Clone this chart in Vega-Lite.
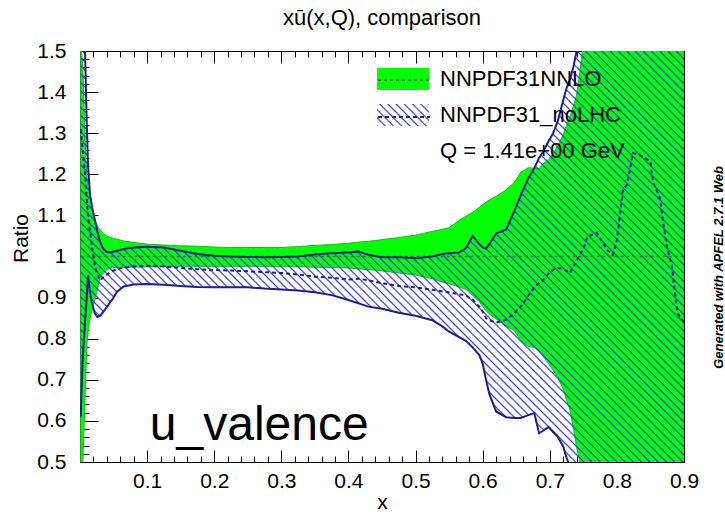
{
"$schema": "https://vega.github.io/schema/vega-lite/v6.json",
"width": 604,
"height": 411,
"autosize": {"type": "none"},
"padding": {"left": 80, "top": 51, "right": 41, "bottom": 52},
"background": "white",
"title": {"text": "xū(x,Q), comparison", "font": "Liberation Sans", "fontSize": 22, "fontWeight": "normal", "color": "black", "anchor": "middle", "frame": "group", "baseline": "alphabetic", "offset": -7},
"config": {
  "view": {"stroke": "black", "strokeWidth": 1},
  "font": "Liberation Sans",
  "axis": {"grid": false, "domain": false, "minExtent": 0, "maxExtent": 0, "labelFont": "Liberation Sans", "labelFontSize": 21, "labelColor": "black", "tickColor": "black", "tickWidth": 1, "titleFont": "Liberation Sans", "titleFontSize": 21, "titleFontWeight": "normal", "titleColor": "black", "labelFlush": false, "labelOverlap": false, "labelBound": false}
},
"datasets": {"bands": [
{"x":0.001,"g_lo":0.48,"g_hi":1.52,"g_c":1,"b_lo":0.61,"b_hi":1.52,"b_c":1.31},
{"x":0.004,"g_lo":0.49,"g_hi":1.47,"g_c":1,"b_lo":0.75,"b_hi":1.52,"b_c":1.26},
{"x":0.0075,"g_lo":0.65,"g_hi":1.29,"g_c":1,"b_lo":0.84,"b_hi":1.5,"b_c":1.2},
{"x":0.01,"g_lo":0.78,"g_hi":1.2,"g_c":1,"b_lo":0.9,"b_hi":1.33,"b_c":1.14},
{"x":0.012,"g_lo":0.82,"g_hi":1.17,"g_c":1,"b_lo":0.955,"b_hi":1.22,"b_c":1.1},
{"x":0.015,"g_lo":0.85,"g_hi":1.146,"g_c":1,"b_lo":0.91,"b_hi":1.15,"b_c":1.06},
{"x":0.018,"g_lo":0.87,"g_hi":1.115,"g_c":1,"b_lo":0.885,"b_hi":1.12,"b_c":1.02},
{"x":0.022,"g_lo":0.895,"g_hi":1.09,"g_c":1,"b_lo":0.862,"b_hi":1.09,"b_c":0.98},
{"x":0.026,"g_lo":0.92,"g_hi":1.074,"g_c":1,"b_lo":0.853,"b_hi":1.06,"b_c":0.955},
{"x":0.03,"g_lo":0.948,"g_hi":1.065,"g_c":1,"b_lo":0.856,"b_hi":1.035,"b_c":0.942},
{"x":0.035,"g_lo":0.96,"g_hi":1.055,"g_c":1,"b_lo":0.866,"b_hi":1.018,"b_c":0.95},
{"x":0.04,"g_lo":0.968,"g_hi":1.05,"g_c":1,"b_lo":0.877,"b_hi":1.011,"b_c":0.956},
{"x":0.045,"g_lo":0.971,"g_hi":1.047,"g_c":1,"b_lo":0.889,"b_hi":1.01,"b_c":0.962},
{"x":0.05,"g_lo":0.973,"g_hi":1.044,"g_c":1,"b_lo":0.9,"b_hi":1.012,"b_c":0.966},
{"x":0.055,"g_lo":0.973,"g_hi":1.042,"g_c":1,"b_lo":0.914,"b_hi":1.014,"b_c":0.969},
{"x":0.065,"g_lo":0.974,"g_hi":1.038,"g_c":1,"b_lo":0.927,"b_hi":1.018,"b_c":0.973},
{"x":0.08,"g_lo":0.974,"g_hi":1.034,"g_c":1,"b_lo":0.932,"b_hi":1.022,"b_c":0.976},
{"x":0.1,"g_lo":0.975,"g_hi":1.03,"g_c":1,"b_lo":0.933,"b_hi":1.024,"b_c":0.977},
{"x":0.125,"g_lo":0.975,"g_hi":1.028,"g_c":1,"b_lo":0.931,"b_hi":1.022,"b_c":0.976},
{"x":0.15,"g_lo":0.976,"g_hi":1.026,"g_c":1,"b_lo":0.928,"b_hi":1.014,"b_c":0.972},
{"x":0.175,"g_lo":0.976,"g_hi":1.025,"g_c":1,"b_lo":0.926,"b_hi":1.006,"b_c":0.969},
{"x":0.2,"g_lo":0.976,"g_hi":1.023,"g_c":1,"b_lo":0.925,"b_hi":1.002,"b_c":0.967},
{"x":0.225,"g_lo":0.976,"g_hi":1.022,"g_c":1,"b_lo":0.925,"b_hi":1.0,"b_c":0.966},
{"x":0.25,"g_lo":0.976,"g_hi":1.022,"g_c":1,"b_lo":0.925,"b_hi":0.999,"b_c":0.964},
{"x":0.275,"g_lo":0.976,"g_hi":1.022,"g_c":1,"b_lo":0.922,"b_hi":0.998,"b_c":0.962},
{"x":0.3,"g_lo":0.975,"g_hi":1.022,"g_c":1,"b_lo":0.92,"b_hi":0.999,"b_c":0.96},
{"x":0.325,"g_lo":0.975,"g_hi":1.024,"g_c":1,"b_lo":0.917,"b_hi":1.0,"b_c":0.956},
{"x":0.35,"g_lo":0.974,"g_hi":1.027,"g_c":1,"b_lo":0.913,"b_hi":1.005,"b_c":0.951},
{"x":0.375,"g_lo":0.973,"g_hi":1.029,"g_c":1,"b_lo":0.906,"b_hi":1.008,"b_c":0.948},
{"x":0.39,"g_lo":0.973,"g_hi":1.031,"g_c":1,"b_lo":0.899,"b_hi":1.009,"b_c":0.946},
{"x":0.4,"g_lo":0.972,"g_hi":1.032,"g_c":1,"b_lo":0.894,"b_hi":1.01,"b_c":0.944},
{"x":0.415,"g_lo":0.97,"g_hi":1.035,"g_c":1,"b_lo":0.886,"b_hi":1.012,"b_c":0.946},
{"x":0.43,"g_lo":0.968,"g_hi":1.037,"g_c":1,"b_lo":0.878,"b_hi":1.004,"b_c":0.942},
{"x":0.45,"g_lo":0.965,"g_hi":1.041,"g_c":1,"b_lo":0.873,"b_hi":0.998,"b_c":0.935},
{"x":0.475,"g_lo":0.96,"g_hi":1.046,"g_c":1,"b_lo":0.863,"b_hi":0.998,"b_c":0.928},
{"x":0.5,"g_lo":0.955,"g_hi":1.052,"g_c":1,"b_lo":0.856,"b_hi":0.996,"b_c":0.925},
{"x":0.525,"g_lo":0.946,"g_hi":1.061,"g_c":1,"b_lo":0.845,"b_hi":1.0,"b_c":0.919},
{"x":0.54,"g_lo":0.938,"g_hi":1.066,"g_c":1,"b_lo":0.83,"b_hi":1.006,"b_c":0.915},
{"x":0.55,"g_lo":0.934,"g_hi":1.07,"g_c":1,"b_lo":0.817,"b_hi":1.008,"b_c":0.913},
{"x":0.565,"g_lo":0.926,"g_hi":1.088,"g_c":1,"b_lo":0.804,"b_hi":1.01,"b_c":0.908},
{"x":0.575,"g_lo":0.92,"g_hi":1.098,"g_c":1,"b_lo":0.795,"b_hi":1.02,"b_c":0.905},
{"x":0.585,"g_lo":0.905,"g_hi":1.107,"g_c":1,"b_lo":0.779,"b_hi":1.05,"b_c":0.895},
{"x":0.595,"g_lo":0.89,"g_hi":1.12,"g_c":1,"b_lo":0.76,"b_hi":1.03,"b_c":0.878},
{"x":0.6,"g_lo":0.878,"g_hi":1.126,"g_c":1,"b_lo":0.74,"b_hi":1.022,"b_c":0.866},
{"x":0.605,"g_lo":0.868,"g_hi":1.132,"g_c":1,"b_lo":0.7,"b_hi":1.019,"b_c":0.85},
{"x":0.61,"g_lo":0.86,"g_hi":1.138,"g_c":1,"b_lo":0.665,"b_hi":1.03,"b_c":0.845},
{"x":0.62,"g_lo":0.848,"g_hi":1.146,"g_c":1,"b_lo":0.623,"b_hi":1.056,"b_c":0.839},
{"x":0.635,"g_lo":0.83,"g_hi":1.162,"g_c":1,"b_lo":0.609,"b_hi":1.066,"b_c":0.846},
{"x":0.647,"g_lo":0.82,"g_hi":1.18,"g_c":1,"b_lo":0.607,"b_hi":1.11,"b_c":0.862},
{"x":0.657,"g_lo":0.795,"g_hi":1.205,"g_c":1,"b_lo":0.607,"b_hi":1.15,"b_c":0.878},
{"x":0.668,"g_lo":0.781,"g_hi":1.216,"g_c":1,"b_lo":0.614,"b_hi":1.19,"b_c":0.905},
{"x":0.677,"g_lo":0.779,"g_hi":1.215,"g_c":1,"b_lo":0.619,"b_hi":1.215,"b_c":0.925},
{"x":0.684,"g_lo":0.77,"g_hi":1.214,"g_c":1,"b_lo":0.57,"b_hi":1.24,"b_c":0.935},
{"x":0.69,"g_lo":0.757,"g_hi":1.225,"g_c":1,"b_lo":0.576,"b_hi":1.255,"b_c":0.943},
{"x":0.698,"g_lo":0.74,"g_hi":1.236,"g_c":1,"b_lo":0.585,"b_hi":1.28,"b_c":0.958},
{"x":0.705,"g_lo":0.723,"g_hi":1.25,"g_c":1,"b_lo":0.573,"b_hi":1.3,"b_c":0.968},
{"x":0.712,"g_lo":0.705,"g_hi":1.27,"g_c":1,"b_lo":0.561,"b_hi":1.33,"b_c":0.972},
{"x":0.72,"g_lo":0.678,"g_hi":1.296,"g_c":1,"b_lo":0.538,"b_hi":1.38,"b_c":0.97},
{"x":0.725,"g_lo":0.65,"g_hi":1.32,"g_c":1,"b_lo":0.51,"b_hi":1.41,"b_c":0.965},
{"x":0.73,"g_lo":0.628,"g_hi":1.34,"g_c":1,"b_lo":0.49,"b_hi":1.43,"b_c":0.96},
{"x":0.735,"g_lo":0.585,"g_hi":1.365,"g_c":1,"b_lo":0.48,"b_hi":1.46,"b_c":0.975},
{"x":0.74,"g_lo":0.535,"g_hi":1.393,"g_c":1,"b_lo":0.48,"b_hi":1.5,"b_c":0.99},
{"x":0.745,"g_lo":0.5,"g_hi":1.45,"g_c":1,"b_lo":0.48,"b_hi":1.51,"b_c":1.005},
{"x":0.75,"g_lo":0.48,"g_hi":1.52,"g_c":1,"b_lo":0.48,"b_hi":1.52,"b_c":1.017},
{"x":0.756,"g_lo":0.48,"g_hi":1.52,"g_c":1,"b_lo":0.48,"b_hi":1.52,"b_c":1.048},
{"x":0.77,"g_lo":0.48,"g_hi":1.52,"g_c":1,"b_lo":0.48,"b_hi":1.52,"b_c":1.058},
{"x":0.785,"g_lo":0.48,"g_hi":1.52,"g_c":1,"b_lo":0.48,"b_hi":1.52,"b_c":1.017},
{"x":0.794,"g_lo":0.48,"g_hi":1.52,"g_c":1,"b_lo":0.48,"b_hi":1.52,"b_c":1.004},
{"x":0.8,"g_lo":0.48,"g_hi":1.52,"g_c":1,"b_lo":0.48,"b_hi":1.52,"b_c":1.04},
{"x":0.809,"g_lo":0.48,"g_hi":1.52,"g_c":1,"b_lo":0.48,"b_hi":1.52,"b_c":1.162},
{"x":0.815,"g_lo":0.48,"g_hi":1.52,"g_c":1,"b_lo":0.48,"b_hi":1.52,"b_c":1.175},
{"x":0.824,"g_lo":0.48,"g_hi":1.52,"g_c":1,"b_lo":0.48,"b_hi":1.52,"b_c":1.252},
{"x":0.839,"g_lo":0.48,"g_hi":1.52,"g_c":1,"b_lo":0.48,"b_hi":1.52,"b_c":1.243},
{"x":0.85,"g_lo":0.48,"g_hi":1.52,"g_c":1,"b_lo":0.48,"b_hi":1.52,"b_c":1.231},
{"x":0.854,"g_lo":0.48,"g_hi":1.52,"g_c":1,"b_lo":0.48,"b_hi":1.52,"b_c":1.18},
{"x":0.864,"g_lo":0.48,"g_hi":1.52,"g_c":1,"b_lo":0.48,"b_hi":1.52,"b_c":1.143},
{"x":0.869,"g_lo":0.48,"g_hi":1.52,"g_c":1,"b_lo":0.48,"b_hi":1.52,"b_c":1.082},
{"x":0.875,"g_lo":0.48,"g_hi":1.52,"g_c":1,"b_lo":0.48,"b_hi":1.52,"b_c":1.021},
{"x":0.882,"g_lo":0.48,"g_hi":1.52,"g_c":1,"b_lo":0.48,"b_hi":1.52,"b_c":0.975},
{"x":0.89,"g_lo":0.48,"g_hi":1.52,"g_c":1,"b_lo":0.48,"b_hi":1.52,"b_c":0.863},
{"x":0.9,"g_lo":0.48,"g_hi":1.52,"g_c":1,"b_lo":0.48,"b_hi":1.52,"b_c":0.84}
]},
"data": {"name": "bands"},
"layer": [
{
  "mark": {"type": "area", "stroke": "#1fb51f", "strokeWidth": 1, "clip": true},
  "encoding": {
    "x": {"field": "x", "type": "quantitative", "scale": {"domain": [0, 0.9], "nice": false, "zero": false},
      "axis": {"orient": "bottom", "values": [0.1,0.2,0.3,0.4,0.5,0.6,0.7,0.8,0.9], "format": "~g", "ticks": false, "labelPadding": 8, "title": "x", "titleX": 302, "titleY": 40, "titleAlign": "center", "titleBaseline": "middle"}},
    "y": {"field": "g_lo", "type": "quantitative", "scale": {"domain": [0.5, 1.5], "nice": false, "zero": false},
      "axis": {"orient": "left", "values": [0.5,0.6,0.7,0.8,0.9,1,1.1,1.2,1.3,1.4,1.5], "format": "~g", "ticks": false, "labelPadding": 14, "title": "Ratio", "titleX": -59, "titleY": 187, "titleAngle": 270, "titleAlign": "center", "titleBaseline": "middle"}},
    "y2": {"field": "g_hi"},
    "fill": {"datum": "NNPDF31NNLO", "type": "nominal",
      "scale": {"domain": ["NNPDF31NNLO", "NNPDF31_noLHC", "Q = 1.41e+00 GeV"], "range": ["#00ff00",
        {"expr": "{gradient: 'linear', x1: 0, y1: 1, x2: 1.207, y2: 0.494, stops: [{offset: 0, color: '#33e'}, {offset: 0.022, color: '#33e0'}, {offset: 0.089, color: '#33e0'}, {offset: 0.111, color: '#33e'}, {offset: 0.133, color: '#33e0'}, {offset: 0.2, color: '#33e0'}, {offset: 0.222, color: '#33e'}, {offset: 0.244, color: '#33e0'}, {offset: 0.311, color: '#33e0'}, {offset: 0.333, color: '#33e'}, {offset: 0.355, color: '#33e0'}, {offset: 0.422, color: '#33e0'}, {offset: 0.444, color: '#33e'}, {offset: 0.466, color: '#33e0'}, {offset: 0.533, color: '#33e0'}, {offset: 0.556, color: '#33e'}, {offset: 0.578, color: '#33e0'}, {offset: 0.644, color: '#33e0'}, {offset: 0.667, color: '#33e'}, {offset: 0.689, color: '#33e0'}, {offset: 0.756, color: '#33e0'}, {offset: 0.778, color: '#33e'}, {offset: 0.8, color: '#33e0'}, {offset: 0.867, color: '#33e0'}, {offset: 0.889, color: '#33e'}, {offset: 0.911, color: '#33e0'}, {offset: 0.978, color: '#33e0'}, {offset: 1, color: '#33e'}]}"},
        "transparent"]},
      "legend": {"orient": "none", "legendX": 310, "legendY": 15, "title": null, "padding": 0, "symbolType": "M-2,-0.84H2V0.84H-2Z", "symbolSize": 676, "symbolStrokeWidth": 0, "symbolOpacity": 1, "labelFont": "Liberation Sans", "labelFontSize": 22, "labelColor": "black", "labelOffset": 24, "rowPadding": 12, "labelLimit": 400}
    }
  }
},
{
  "mark": {"type": "area", "clip": true, "fill": {"gradient": "linear", "x1": 0, "y1": 1, "x2": 1.138, "y2": 0.194, "stops": [
{"offset":0,"color":"#33e"},{"offset":0.0016,"color":"#33e0"},{"offset":0.0064,"color":"#33e0"},
{"offset":0.008,"color":"#33e"},{"offset":0.0096,"color":"#33e0"},{"offset":0.0144,"color":"#33e0"},
{"offset":0.016,"color":"#33e"},{"offset":0.0176,"color":"#33e0"},{"offset":0.0224,"color":"#33e0"},
{"offset":0.024,"color":"#33e"},{"offset":0.0256,"color":"#33e0"},{"offset":0.0304,"color":"#33e0"},
{"offset":0.032,"color":"#33e"},{"offset":0.0336,"color":"#33e0"},{"offset":0.0384,"color":"#33e0"},
{"offset":0.04,"color":"#33e"},{"offset":0.0416,"color":"#33e0"},{"offset":0.0464,"color":"#33e0"},
{"offset":0.048,"color":"#33e"},{"offset":0.0496,"color":"#33e0"},{"offset":0.0544,"color":"#33e0"},
{"offset":0.056,"color":"#33e"},{"offset":0.0576,"color":"#33e0"},{"offset":0.0624,"color":"#33e0"},
{"offset":0.064,"color":"#33e"},{"offset":0.0656,"color":"#33e0"},{"offset":0.0704,"color":"#33e0"},
{"offset":0.072,"color":"#33e"},{"offset":0.0736,"color":"#33e0"},{"offset":0.0784,"color":"#33e0"},
{"offset":0.08,"color":"#33e"},{"offset":0.0816,"color":"#33e0"},{"offset":0.0864,"color":"#33e0"},
{"offset":0.088,"color":"#33e"},{"offset":0.0896,"color":"#33e0"},{"offset":0.0944,"color":"#33e0"},
{"offset":0.096,"color":"#33e"},{"offset":0.0976,"color":"#33e0"},{"offset":0.1024,"color":"#33e0"},
{"offset":0.104,"color":"#33e"},{"offset":0.1056,"color":"#33e0"},{"offset":0.1104,"color":"#33e0"},
{"offset":0.112,"color":"#33e"},{"offset":0.1136,"color":"#33e0"},{"offset":0.1184,"color":"#33e0"},
{"offset":0.12,"color":"#33e"},{"offset":0.1216,"color":"#33e0"},{"offset":0.1264,"color":"#33e0"},
{"offset":0.128,"color":"#33e"},{"offset":0.1296,"color":"#33e0"},{"offset":0.1344,"color":"#33e0"},
{"offset":0.136,"color":"#33e"},{"offset":0.1376,"color":"#33e0"},{"offset":0.1424,"color":"#33e0"},
{"offset":0.144,"color":"#33e"},{"offset":0.1456,"color":"#33e0"},{"offset":0.1504,"color":"#33e0"},
{"offset":0.152,"color":"#33e"},{"offset":0.1536,"color":"#33e0"},{"offset":0.1584,"color":"#33e0"},
{"offset":0.16,"color":"#33e"},{"offset":0.1616,"color":"#33e0"},{"offset":0.1664,"color":"#33e0"},
{"offset":0.168,"color":"#33e"},{"offset":0.1696,"color":"#33e0"},{"offset":0.1744,"color":"#33e0"},
{"offset":0.176,"color":"#33e"},{"offset":0.1776,"color":"#33e0"},{"offset":0.1824,"color":"#33e0"},
{"offset":0.184,"color":"#33e"},{"offset":0.1856,"color":"#33e0"},{"offset":0.1904,"color":"#33e0"},
{"offset":0.192,"color":"#33e"},{"offset":0.1936,"color":"#33e0"},{"offset":0.1984,"color":"#33e0"},
{"offset":0.2,"color":"#33e"},{"offset":0.2016,"color":"#33e0"},{"offset":0.2064,"color":"#33e0"},
{"offset":0.208,"color":"#33e"},{"offset":0.2096,"color":"#33e0"},{"offset":0.2144,"color":"#33e0"},
{"offset":0.216,"color":"#33e"},{"offset":0.2176,"color":"#33e0"},{"offset":0.2224,"color":"#33e0"},
{"offset":0.224,"color":"#33e"},{"offset":0.2256,"color":"#33e0"},{"offset":0.2304,"color":"#33e0"},
{"offset":0.232,"color":"#33e"},{"offset":0.2336,"color":"#33e0"},{"offset":0.2384,"color":"#33e0"},
{"offset":0.24,"color":"#33e"},{"offset":0.2416,"color":"#33e0"},{"offset":0.2464,"color":"#33e0"},
{"offset":0.248,"color":"#33e"},{"offset":0.2496,"color":"#33e0"},{"offset":0.2544,"color":"#33e0"},
{"offset":0.256,"color":"#33e"},{"offset":0.2576,"color":"#33e0"},{"offset":0.2624,"color":"#33e0"},
{"offset":0.264,"color":"#33e"},{"offset":0.2656,"color":"#33e0"},{"offset":0.2704,"color":"#33e0"},
{"offset":0.272,"color":"#33e"},{"offset":0.2736,"color":"#33e0"},{"offset":0.2784,"color":"#33e0"},
{"offset":0.28,"color":"#33e"},{"offset":0.2816,"color":"#33e0"},{"offset":0.2864,"color":"#33e0"},
{"offset":0.288,"color":"#33e"},{"offset":0.2896,"color":"#33e0"},{"offset":0.2944,"color":"#33e0"},
{"offset":0.296,"color":"#33e"},{"offset":0.2976,"color":"#33e0"},{"offset":0.3024,"color":"#33e0"},
{"offset":0.304,"color":"#33e"},{"offset":0.3056,"color":"#33e0"},{"offset":0.3104,"color":"#33e0"},
{"offset":0.312,"color":"#33e"},{"offset":0.3136,"color":"#33e0"},{"offset":0.3184,"color":"#33e0"},
{"offset":0.32,"color":"#33e"},{"offset":0.3216,"color":"#33e0"},{"offset":0.3264,"color":"#33e0"},
{"offset":0.328,"color":"#33e"},{"offset":0.3296,"color":"#33e0"},{"offset":0.3344,"color":"#33e0"},
{"offset":0.336,"color":"#33e"},{"offset":0.3376,"color":"#33e0"},{"offset":0.3424,"color":"#33e0"},
{"offset":0.344,"color":"#33e"},{"offset":0.3456,"color":"#33e0"},{"offset":0.3504,"color":"#33e0"},
{"offset":0.352,"color":"#33e"},{"offset":0.3536,"color":"#33e0"},{"offset":0.3584,"color":"#33e0"},
{"offset":0.36,"color":"#33e"},{"offset":0.3616,"color":"#33e0"},{"offset":0.3664,"color":"#33e0"},
{"offset":0.368,"color":"#33e"},{"offset":0.3696,"color":"#33e0"},{"offset":0.3744,"color":"#33e0"},
{"offset":0.376,"color":"#33e"},{"offset":0.3776,"color":"#33e0"},{"offset":0.3824,"color":"#33e0"},
{"offset":0.384,"color":"#33e"},{"offset":0.3856,"color":"#33e0"},{"offset":0.3904,"color":"#33e0"},
{"offset":0.392,"color":"#33e"},{"offset":0.3936,"color":"#33e0"},{"offset":0.3984,"color":"#33e0"},
{"offset":0.4,"color":"#33e"},{"offset":0.4016,"color":"#33e0"},{"offset":0.4064,"color":"#33e0"},
{"offset":0.408,"color":"#33e"},{"offset":0.4096,"color":"#33e0"},{"offset":0.4144,"color":"#33e0"},
{"offset":0.416,"color":"#33e"},{"offset":0.4176,"color":"#33e0"},{"offset":0.4224,"color":"#33e0"},
{"offset":0.424,"color":"#33e"},{"offset":0.4256,"color":"#33e0"},{"offset":0.4304,"color":"#33e0"},
{"offset":0.432,"color":"#33e"},{"offset":0.4336,"color":"#33e0"},{"offset":0.4384,"color":"#33e0"},
{"offset":0.44,"color":"#33e"},{"offset":0.4416,"color":"#33e0"},{"offset":0.4464,"color":"#33e0"},
{"offset":0.448,"color":"#33e"},{"offset":0.4496,"color":"#33e0"},{"offset":0.4544,"color":"#33e0"},
{"offset":0.456,"color":"#33e"},{"offset":0.4576,"color":"#33e0"},{"offset":0.4624,"color":"#33e0"},
{"offset":0.464,"color":"#33e"},{"offset":0.4656,"color":"#33e0"},{"offset":0.4704,"color":"#33e0"},
{"offset":0.472,"color":"#33e"},{"offset":0.4736,"color":"#33e0"},{"offset":0.4784,"color":"#33e0"},
{"offset":0.48,"color":"#33e"},{"offset":0.4816,"color":"#33e0"},{"offset":0.4864,"color":"#33e0"},
{"offset":0.488,"color":"#33e"},{"offset":0.4896,"color":"#33e0"},{"offset":0.4944,"color":"#33e0"},
{"offset":0.496,"color":"#33e"},{"offset":0.4976,"color":"#33e0"},{"offset":0.5024,"color":"#33e0"},
{"offset":0.504,"color":"#33e"},{"offset":0.5056,"color":"#33e0"},{"offset":0.5104,"color":"#33e0"},
{"offset":0.512,"color":"#33e"},{"offset":0.5136,"color":"#33e0"},{"offset":0.5184,"color":"#33e0"},
{"offset":0.52,"color":"#33e"},{"offset":0.5216,"color":"#33e0"},{"offset":0.5264,"color":"#33e0"},
{"offset":0.528,"color":"#33e"},{"offset":0.5296,"color":"#33e0"},{"offset":0.5344,"color":"#33e0"},
{"offset":0.536,"color":"#33e"},{"offset":0.5376,"color":"#33e0"},{"offset":0.5424,"color":"#33e0"},
{"offset":0.544,"color":"#33e"},{"offset":0.5456,"color":"#33e0"},{"offset":0.5504,"color":"#33e0"},
{"offset":0.552,"color":"#33e"},{"offset":0.5536,"color":"#33e0"},{"offset":0.5584,"color":"#33e0"},
{"offset":0.56,"color":"#33e"},{"offset":0.5616,"color":"#33e0"},{"offset":0.5664,"color":"#33e0"},
{"offset":0.568,"color":"#33e"},{"offset":0.5696,"color":"#33e0"},{"offset":0.5744,"color":"#33e0"},
{"offset":0.576,"color":"#33e"},{"offset":0.5776,"color":"#33e0"},{"offset":0.5824,"color":"#33e0"},
{"offset":0.584,"color":"#33e"},{"offset":0.5856,"color":"#33e0"},{"offset":0.5904,"color":"#33e0"},
{"offset":0.592,"color":"#33e"},{"offset":0.5936,"color":"#33e0"},{"offset":0.5984,"color":"#33e0"},
{"offset":0.6,"color":"#33e"},{"offset":0.6016,"color":"#33e0"},{"offset":0.6064,"color":"#33e0"},
{"offset":0.608,"color":"#33e"},{"offset":0.6096,"color":"#33e0"},{"offset":0.6144,"color":"#33e0"},
{"offset":0.616,"color":"#33e"},{"offset":0.6176,"color":"#33e0"},{"offset":0.6224,"color":"#33e0"},
{"offset":0.624,"color":"#33e"},{"offset":0.6256,"color":"#33e0"},{"offset":0.6304,"color":"#33e0"},
{"offset":0.632,"color":"#33e"},{"offset":0.6336,"color":"#33e0"},{"offset":0.6384,"color":"#33e0"},
{"offset":0.64,"color":"#33e"},{"offset":0.6416,"color":"#33e0"},{"offset":0.6464,"color":"#33e0"},
{"offset":0.648,"color":"#33e"},{"offset":0.6496,"color":"#33e0"},{"offset":0.6544,"color":"#33e0"},
{"offset":0.656,"color":"#33e"},{"offset":0.6576,"color":"#33e0"},{"offset":0.6624,"color":"#33e0"},
{"offset":0.664,"color":"#33e"},{"offset":0.6656,"color":"#33e0"},{"offset":0.6704,"color":"#33e0"},
{"offset":0.672,"color":"#33e"},{"offset":0.6736,"color":"#33e0"},{"offset":0.6784,"color":"#33e0"},
{"offset":0.68,"color":"#33e"},{"offset":0.6816,"color":"#33e0"},{"offset":0.6864,"color":"#33e0"},
{"offset":0.688,"color":"#33e"},{"offset":0.6896,"color":"#33e0"},{"offset":0.6944,"color":"#33e0"},
{"offset":0.696,"color":"#33e"},{"offset":0.6976,"color":"#33e0"},{"offset":0.7024,"color":"#33e0"},
{"offset":0.704,"color":"#33e"},{"offset":0.7056,"color":"#33e0"},{"offset":0.7104,"color":"#33e0"},
{"offset":0.712,"color":"#33e"},{"offset":0.7136,"color":"#33e0"},{"offset":0.7184,"color":"#33e0"},
{"offset":0.72,"color":"#33e"},{"offset":0.7216,"color":"#33e0"},{"offset":0.7264,"color":"#33e0"},
{"offset":0.728,"color":"#33e"},{"offset":0.7296,"color":"#33e0"},{"offset":0.7344,"color":"#33e0"},
{"offset":0.736,"color":"#33e"},{"offset":0.7376,"color":"#33e0"},{"offset":0.7424,"color":"#33e0"},
{"offset":0.744,"color":"#33e"},{"offset":0.7456,"color":"#33e0"},{"offset":0.7504,"color":"#33e0"},
{"offset":0.752,"color":"#33e"},{"offset":0.7536,"color":"#33e0"},{"offset":0.7584,"color":"#33e0"},
{"offset":0.76,"color":"#33e"},{"offset":0.7616,"color":"#33e0"},{"offset":0.7664,"color":"#33e0"},
{"offset":0.768,"color":"#33e"},{"offset":0.7696,"color":"#33e0"},{"offset":0.7744,"color":"#33e0"},
{"offset":0.776,"color":"#33e"},{"offset":0.7776,"color":"#33e0"},{"offset":0.7824,"color":"#33e0"},
{"offset":0.784,"color":"#33e"},{"offset":0.7856,"color":"#33e0"},{"offset":0.7904,"color":"#33e0"},
{"offset":0.792,"color":"#33e"},{"offset":0.7936,"color":"#33e0"},{"offset":0.7984,"color":"#33e0"},
{"offset":0.8,"color":"#33e"},{"offset":0.8016,"color":"#33e0"},{"offset":0.8064,"color":"#33e0"},
{"offset":0.808,"color":"#33e"},{"offset":0.8096,"color":"#33e0"},{"offset":0.8144,"color":"#33e0"},
{"offset":0.816,"color":"#33e"},{"offset":0.8176,"color":"#33e0"},{"offset":0.8224,"color":"#33e0"},
{"offset":0.824,"color":"#33e"},{"offset":0.8256,"color":"#33e0"},{"offset":0.8304,"color":"#33e0"},
{"offset":0.832,"color":"#33e"},{"offset":0.8336,"color":"#33e0"},{"offset":0.8384,"color":"#33e0"},
{"offset":0.84,"color":"#33e"},{"offset":0.8416,"color":"#33e0"},{"offset":0.8464,"color":"#33e0"},
{"offset":0.848,"color":"#33e"},{"offset":0.8496,"color":"#33e0"},{"offset":0.8544,"color":"#33e0"},
{"offset":0.856,"color":"#33e"},{"offset":0.8576,"color":"#33e0"},{"offset":0.8624,"color":"#33e0"},
{"offset":0.864,"color":"#33e"},{"offset":0.8656,"color":"#33e0"},{"offset":0.8704,"color":"#33e0"},
{"offset":0.872,"color":"#33e"},{"offset":0.8736,"color":"#33e0"},{"offset":0.8784,"color":"#33e0"},
{"offset":0.88,"color":"#33e"},{"offset":0.8816,"color":"#33e0"},{"offset":0.8864,"color":"#33e0"},
{"offset":0.888,"color":"#33e"},{"offset":0.8896,"color":"#33e0"},{"offset":0.8944,"color":"#33e0"},
{"offset":0.896,"color":"#33e"},{"offset":0.8976,"color":"#33e0"},{"offset":0.9024,"color":"#33e0"},
{"offset":0.904,"color":"#33e"},{"offset":0.9056,"color":"#33e0"},{"offset":0.9104,"color":"#33e0"},
{"offset":0.912,"color":"#33e"},{"offset":0.9136,"color":"#33e0"},{"offset":0.9184,"color":"#33e0"},
{"offset":0.92,"color":"#33e"},{"offset":0.9216,"color":"#33e0"},{"offset":0.9264,"color":"#33e0"},
{"offset":0.928,"color":"#33e"},{"offset":0.9296,"color":"#33e0"},{"offset":0.9344,"color":"#33e0"},
{"offset":0.936,"color":"#33e"},{"offset":0.9376,"color":"#33e0"},{"offset":0.9424,"color":"#33e0"},
{"offset":0.944,"color":"#33e"},{"offset":0.9456,"color":"#33e0"},{"offset":0.9504,"color":"#33e0"},
{"offset":0.952,"color":"#33e"},{"offset":0.9536,"color":"#33e0"},{"offset":0.9584,"color":"#33e0"},
{"offset":0.96,"color":"#33e"},{"offset":0.9616,"color":"#33e0"},{"offset":0.9664,"color":"#33e0"},
{"offset":0.968,"color":"#33e"},{"offset":0.9696,"color":"#33e0"},{"offset":0.9744,"color":"#33e0"},
{"offset":0.976,"color":"#33e"},{"offset":0.9776,"color":"#33e0"},{"offset":0.9824,"color":"#33e0"},
{"offset":0.984,"color":"#33e"},{"offset":0.9856,"color":"#33e0"},{"offset":0.9904,"color":"#33e0"},
{"offset":0.992,"color":"#33e"},{"offset":0.9936,"color":"#33e0"},{"offset":0.9984,"color":"#33e0"},
{"offset":1,"color":"#33e"}
  ]}},
  "encoding": {
    "x": {"field": "x", "type": "quantitative", "scale": {"domain": [0, 0.9], "nice": false, "zero": false},
      "axis": {"orient": "bottom", "values": [0.1,0.2,0.3,0.4,0.5,0.6,0.7,0.8,0.9], "labels": false, "tickSize": -12, "title": null}},
    "y": {"field": "b_lo", "type": "quantitative", "scale": {"domain": [0.5, 1.5], "nice": false, "zero": false},
      "axis": {"orient": "left", "values": [0.5,0.6,0.7,0.8,0.9,1,1.1,1.2,1.3,1.4,1.5], "labels": false, "tickSize": -18, "title": null}},
    "y2": {"field": "b_hi"}
  }
},
{
  "mark": {"type": "line", "strokeWidth": 1.5, "clip": true},
  "encoding": {
    "x": {"field": "x", "type": "quantitative", "scale": {"domain": [0, 0.9], "nice": false, "zero": false},
      "axis": {"orient": "bottom", "values": [0.02,0.04,0.06,0.08,0.12,0.14,0.16,0.18,0.22,0.24,0.26,0.28,0.32,0.34,0.36,0.38,0.42,0.44,0.46,0.48,0.52,0.54,0.56,0.58,0.62,0.64,0.66,0.68,0.72,0.74,0.76,0.78,0.82,0.84,0.86,0.88], "labels": false, "tickSize": -6, "title": null}},
    "y": {"field": "g_c", "type": "quantitative", "scale": {"domain": [0.5, 1.5], "nice": false, "zero": false},
      "axis": {"orient": "left", "values": [0.52,0.54,0.56,0.58,0.62,0.64,0.66,0.68,0.72,0.74,0.76,0.78,0.82,0.84,0.86,0.88,0.92,0.94,0.96,0.98,1.02,1.04,1.06,1.08,1.12,1.14,1.16,1.18,1.22,1.24,1.26,1.28,1.32,1.34,1.36,1.38,1.42,1.44,1.46,1.48], "labels": false, "tickSize": -9, "title": null}},
    "stroke": {"datum": "NNPDF31NNLO", "type": "nominal",
      "scale": {"domain": ["NNPDF31NNLO", "NNPDF31_noLHC"], "range": ["#2f7a2f", "#1c1c96"]},
      "legend": {"orient": "none", "legendX": 310, "legendY": 15, "title": null, "padding": 0, "symbolType": "M-2,0H2", "symbolSize": 676, "symbolStrokeWidth": 2, "symbolFillColor": "transparent", "symbolOpacity": 1, "labelFont": "Liberation Sans", "labelFontSize": 22, "labelExpr": "''", "labelOffset": 24, "rowPadding": 12}},
    "strokeDash": {"datum": "NNPDF31NNLO", "type": "nominal",
      "scale": {"domain": ["NNPDF31NNLO", "NNPDF31_noLHC"], "range": [[3, 3], [4, 3]]},
      "legend": {"orient": "none", "legendX": 310, "legendY": 15, "title": null, "padding": 0, "symbolType": "M-2,0H2", "symbolSize": 676, "symbolStrokeWidth": 2, "symbolFillColor": "transparent", "symbolOpacity": 1, "labelFont": "Liberation Sans", "labelFontSize": 22, "labelExpr": "''", "labelOffset": 24, "rowPadding": 12}
    }
  }
},
{
  "transform": [{"filter": "datum.b_hi <= 1.51"}],
  "mark": {"type": "line", "color": "#1c1c96", "strokeWidth": 2, "clip": true},
  "encoding": {
    "x": {"field": "x", "type": "quantitative", "scale": {"domain": [0, 0.9], "nice": false, "zero": false},
      "axis": {"orient": "top", "values": [0.1,0.2,0.3,0.4,0.5,0.6,0.7,0.8,0.9], "labels": false, "tickSize": -12, "title": null}},
    "y": {"field": "b_hi", "type": "quantitative", "scale": {"domain": [0.5, 1.5], "nice": false, "zero": false},
      "axis": {"orient": "right", "values": [0.5,0.6,0.7,0.8,0.9,1,1.1,1.2,1.3,1.4,1.5], "labels": false, "tickSize": -12, "title": "Generated with APFEL 2.7.1 Web", "titleAngle": 270, "titleX": 34, "titleY": 216, "titleAlign": "center", "titleBaseline": "middle", "titleFontSize": 13, "titleFontWeight": "bold", "titleFontStyle": "italic"}}
  }
},
{
  "transform": [{"filter": "datum.b_lo >= 0.49"}],
  "mark": {"type": "line", "color": "#1c1c96", "strokeWidth": 2, "clip": true},
  "encoding": {
    "x": {"field": "x", "type": "quantitative", "scale": {"domain": [0, 0.9], "nice": false, "zero": false},
      "axis": {"orient": "top", "values": [0.02,0.04,0.06,0.08,0.12,0.14,0.16,0.18,0.22,0.24,0.26,0.28,0.32,0.34,0.36,0.38,0.42,0.44,0.46,0.48,0.52,0.54,0.56,0.58,0.62,0.64,0.66,0.68,0.72,0.74,0.76,0.78,0.82,0.84,0.86,0.88], "labels": false, "tickSize": -6, "title": null}},
    "y": {"field": "b_lo", "type": "quantitative", "scale": {"domain": [0.5, 1.5], "nice": false, "zero": false},
      "axis": {"orient": "right", "values": [0.52,0.54,0.56,0.58,0.62,0.64,0.66,0.68,0.72,0.74,0.76,0.78,0.82,0.84,0.86,0.88,0.92,0.94,0.96,0.98,1.02,1.04,1.06,1.08,1.12,1.14,1.16,1.18,1.22,1.24,1.26,1.28,1.32,1.34,1.36,1.38,1.42,1.44,1.46,1.48], "labels": false, "tickSize": -6, "title": null}}
  }
},
{
  "mark": {"type": "line", "strokeWidth": 2, "clip": true},
  "encoding": {
    "x": {"field": "x", "type": "quantitative", "scale": {"domain": [0, 0.9], "nice": false, "zero": false}, "axis": null},
    "y": {"field": "b_c", "type": "quantitative", "scale": {"domain": [0.5, 1.5], "nice": false, "zero": false}, "axis": null},
    "stroke": {"datum": "NNPDF31_noLHC", "type": "nominal"},
    "strokeDash": {"datum": "NNPDF31_noLHC", "type": "nominal"}
  }
},
{
  "data": {"values": [{"pdf": "u_valence"}]},
  "mark": {"type": "text", "align": "left", "baseline": "alphabetic", "font": "Liberation Sans", "fontSize": 48, "color": "black"},
  "encoding": {
    "x": {"datum": 0.104, "type": "quantitative", "scale": {"domain": [0, 0.9], "nice": false, "zero": false}, "axis": null},
    "y": {"datum": 0.553, "type": "quantitative", "scale": {"domain": [0.5, 1.5], "nice": false, "zero": false}, "axis": null},
    "text": {"field": "pdf"}
  }
}
],
"resolve": {"axis": {"x": "independent", "y": "independent"}}
}
